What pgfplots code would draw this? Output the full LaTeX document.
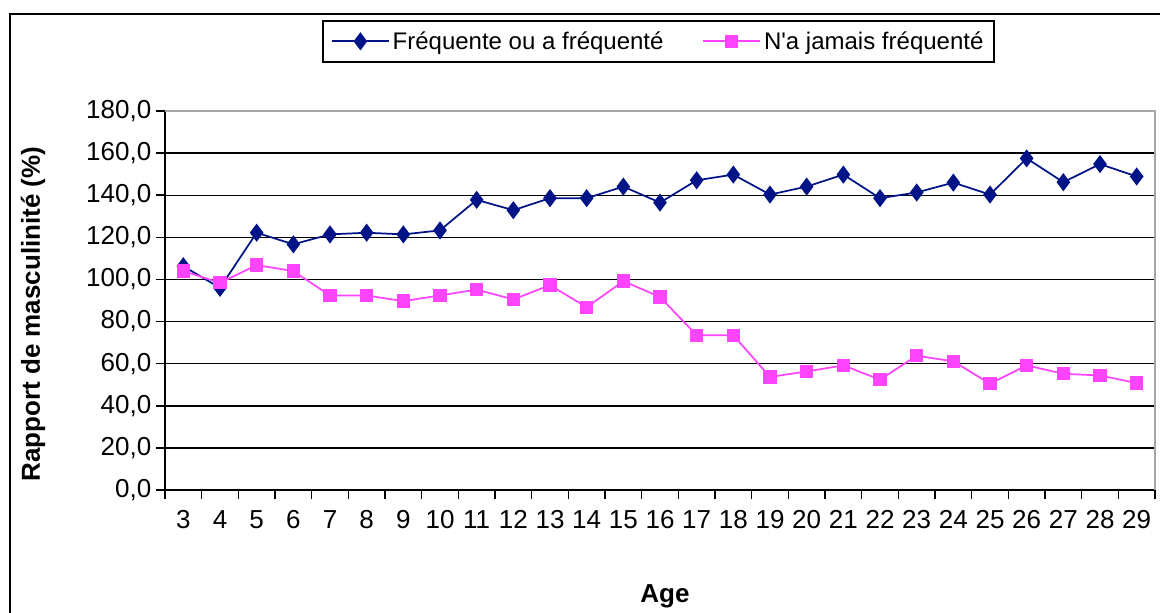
\documentclass[border=0pt]{standalone}
\usepackage{fontspec}
\setmainfont{Liberation Sans}[Ligatures=TeXOff]
\usepackage{pgfplots}
\pgfplotsset{compat=1.18}
\definecolor{navyb}{HTML}{001488}
\definecolor{pinkm}{HTML}{FF44FF}
\begin{document}
\begin{tikzpicture}
\useasboundingbox (0pt,0pt) rectangle (870pt,-459pt);
\fill[white] (0pt,0pt) rectangle (870pt,-459pt);
\draw[line width=1.5pt] (880pt,-10.5pt) -- (7.5pt,-10.5pt) -- (7.5pt,-470pt);
\begin{axis}[
  at={(123.75pt,-367.5pt)}, anchor=south west,
  scale only axis,
  width=742.5pt, height=284.25pt,
  xmin=2.5, xmax=29.5,
  ymin=0, ymax=180,
  ytick={0,20,...,180},
  xtick={2.5,3.5,...,29.5},
  x tick label as interval,
  xticklabels={3,4,5,6,7,8,9,10,11,12,13,14,15,16,17,18,19,20,21,22,23,24,25,26,27,28,29},
  tick align=outside,
  ytick pos=left,
  xtick pos=bottom,
  major tick length=6.75pt,
  every tick/.style={black, line width=1.2pt},
  ymajorgrids,
  major grid style={black, line width=1.1pt},
  axis line style={line width=1.5pt},
  axis x line*=bottom,
  axis y line*=left,
  clip=false,
  tick label style={font=\fontsize{19.5}{22}\selectfont},
  yticklabel style={/pgf/number format/.cd, fixed, fixed zerofill, precision=1, use comma, assume math mode=true},
  xticklabel style={yshift=-5pt},
  xlabel={Age},
  ylabel={Rapport de masculinité (\%)},
  xlabel style={font=\bfseries\fontsize{19.5}{22}\selectfont, at={(axis description cs:0.505,-0.28)}, anchor=center},
  ylabel style={font=\bfseries\fontsize{19.5}{22}\selectfont, at={(axis description cs:-0.1333,0.464)}, anchor=center},
  legend columns=2,
  legend style={at={(axis description cs:0.1586,1.240)}, anchor=north west,
    draw=black, line width=1.2pt, font=\fontsize{18}{21}\selectfont,
    inner xsep=6pt, inner ysep=6pt,
    /tikz/every even column/.append style={column sep=27pt}},
  legend image code/.code={\draw[mark repeat=2,mark phase=2, line width=1.4pt] plot coordinates {(0pt,0pt) (21.5pt,0pt) (43pt,0pt)};},
]
\draw[gray!70, line width=1.2pt] (rel axis cs:0,1) -- (rel axis cs:1,1) -- (rel axis cs:1,0);
\addplot[navyb, line width=1.3pt, mark=diamond*, mark size=6pt, mark options={solid, fill=navyb, line width=1pt}] coordinates {
(3,106.3) (4,96.0) (5,122.2) (6,116.7) (7,121.4) (8,122.2) (9,121.4) (10,123.3)
(11,137.8) (12,132.9) (13,138.6) (14,138.6) (15,144.1) (16,136.5) (17,147.1)
(18,149.8) (19,140.3) (20,144.1) (21,149.8) (22,138.6) (23,141.3) (24,146.0)
(25,140.3) (26,157.5) (27,146.2) (28,154.8) (29,148.9)};
\addlegendentry{Fréquente ou a fréquenté}
\addplot[pinkm, line width=1.3pt, mark=square*, mark size=4.5pt, mark options={solid, fill=pinkm, line width=1pt}] coordinates {
(3,104.0) (4,98.4) (5,106.8) (6,104.0) (7,92.4) (8,92.4) (9,89.7) (10,92.4)
(11,95.2) (12,90.5) (13,97.3) (14,86.8) (15,99.2) (16,91.7) (17,73.5)
(18,73.5) (19,53.7) (20,56.3) (21,59.2) (22,52.4) (23,63.8) (24,61.1)
(25,50.5) (26,59.2) (27,55.2) (28,54.4) (29,50.8)};
\addlegendentry{N'a jamais fréquenté}
\end{axis}
\end{tikzpicture}
\end{document}
